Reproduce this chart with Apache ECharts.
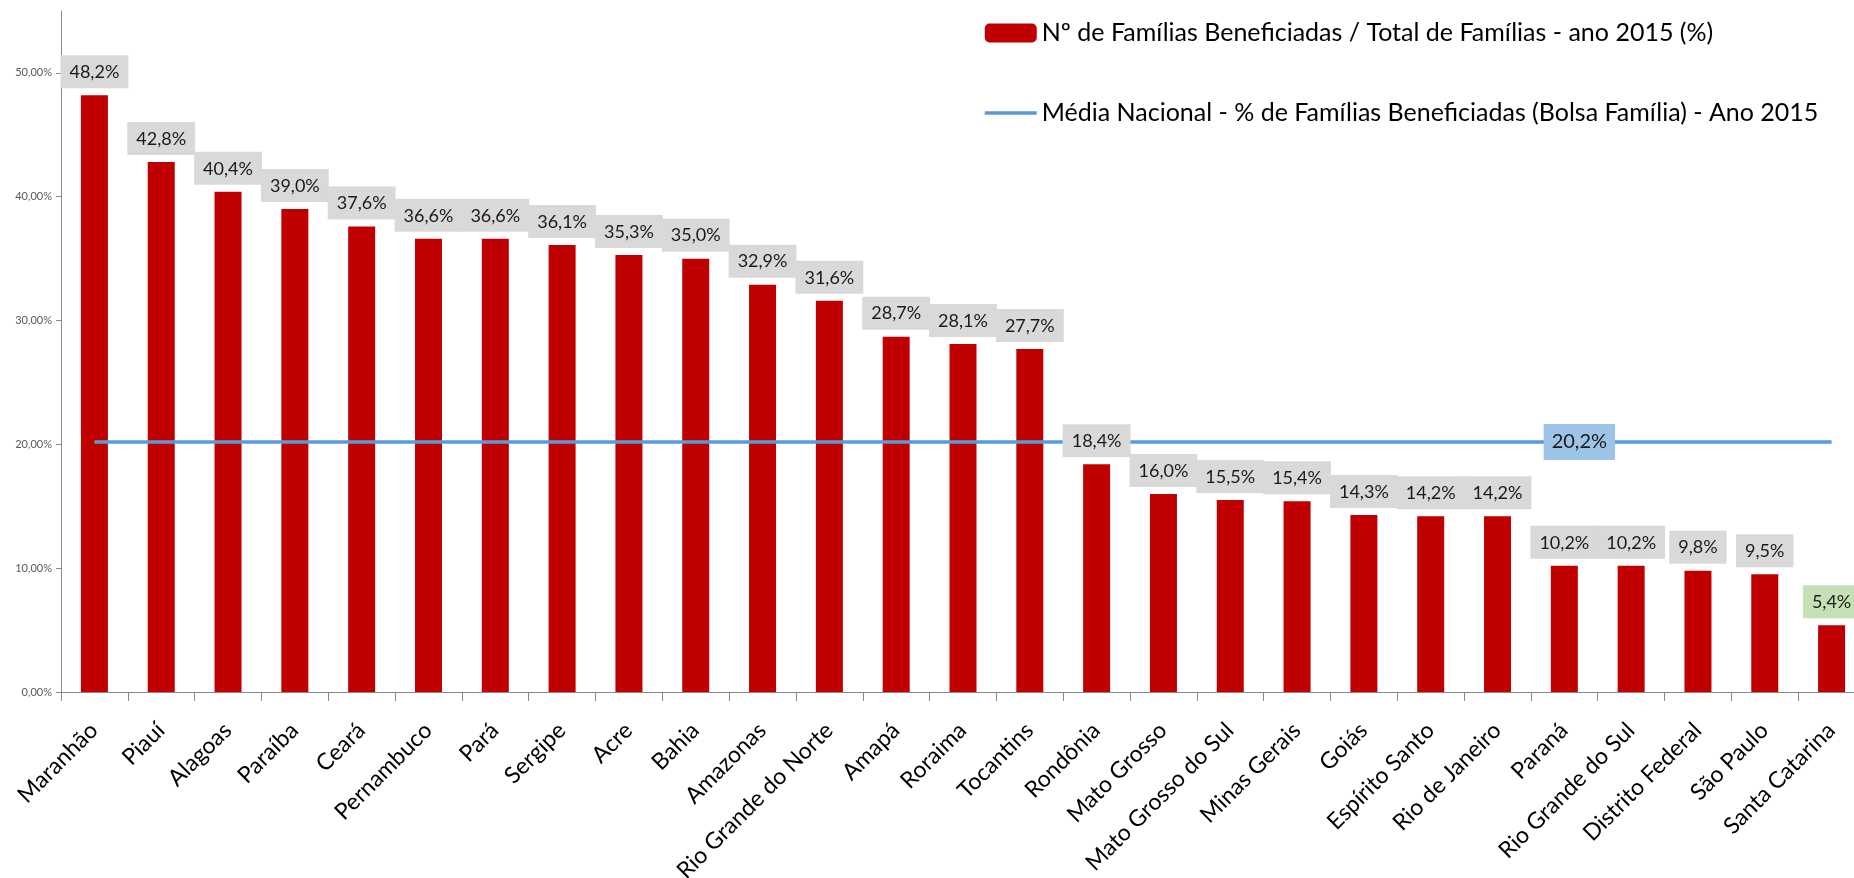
<!DOCTYPE html>
<html>
<head>
<meta charset="utf-8">
<script src="https://cdn.jsdelivr.net/npm/echarts@6/dist/echarts.min.js"></script>
<style>
html,body{margin:0;padding:0;background:#fff;}
#chart{width:1854px;height:878px;}
</style>
</head>
<body>
<div id="chart"></div>
<script>
const categories = ['Maranhão','Piauí','Alagoas','Paraíba','Ceará','Pernambuco','Pará','Sergipe','Acre','Bahia','Amazonas','Rio Grande do Norte','Amapá','Roraima','Tocantins','Rondônia','Mato Grosso','Mato Grosso do Sul','Minas Gerais','Goiás','Espírito Santo','Rio de Janeiro','Paraná','Rio Grande do Sul','Distrito Federal','São Paulo','Santa Catarina'];
const familiasPct = [48.2,42.8,40.4,39.0,37.6,36.6,36.6,36.1,35.3,35.0,32.9,31.6,28.7,28.1,27.7,18.4,16.0,15.5,15.4,14.3,14.2,14.2,10.2,10.2,9.8,9.5,5.4];
const mediaNacional = [20.2,20.2,20.2,20.2,20.2,20.2,20.2,20.2,20.2,20.2,20.2,20.2,20.2,20.2,20.2,20.2,20.2,20.2,20.2,20.2,20.2,20.2,20.2,20.2,20.2,20.2,20.2];
const yTicks = [0,10,20,30,40,50];
const barName = 'Nº de Famílias Beneficiadas / Total de Famílias - ano 2015 (%)';
const lineName = 'Média Nacional - % de Famílias Beneficiadas (Bolsa Família) - Ano 2015';
const mediaLabelIndex = 22;

const FONT = 'Lato';
const fmt1 = v => Number(v).toFixed(1).replace('.', ',') + '%';

const chart = echarts.init(document.getElementById('chart'), null, {renderer:'canvas'});

const labelData = familiasPct.map((v, i) => {
  if (i === familiasPct.length - 1) {
    return {value: v, label: {backgroundColor: '#c5e0b4'}};
  }
  return v;
});

chart.setOption({
  animation: false,
  textStyle: {fontFamily: FONT},
  legend: {
    orient: 'vertical',
    left: 978,
    top: 14,
    itemWidth: 52,
    itemHeight: 19,
    itemGap: 52,
    textStyle: {fontFamily: FONT, fontSize: 25, color: '#000', lineHeight: 28},
    data: [
      {name: barName},
      {name: lineName, itemStyle: {opacity: 0, color: 'rgba(0,0,0,0)', borderWidth: 0},
       lineStyle: {color: '#5b9bd5', width: 3.5}}
    ]
  },
  grid: {left: 61, top: 11, width: 1804, height: 681, outerBoundsMode: 'none', containLabel: false},
  xAxis: {
    type: 'category',
    data: categories,
    axisLine: {lineStyle: {color: '#898989', width: 1}},
    axisTick: {show: true, alignWithLabel: false, length: 9, lineStyle: {color: '#898989'}},
    axisLabel: {rotate: 45, interval: 0, fontFamily: FONT, fontSize: 23, color: '#000', margin: 18,
      verticalAlign: 'top', padding: [0, 12, 0, 0]}
  },
  yAxis: {
    type: 'value',
    min: 0,
    max: 55,
    interval: 10,
    splitLine: {show: false},
    axisLine: {show: true, lineStyle: {color: '#898989', width: 1}},
    axisTick: {show: true, length: 5, lineStyle: {color: '#898989'}, customValues: yTicks},
    axisLabel: {
      customValues: yTicks,
      fontFamily: FONT, fontSize: 11, color: '#595959', margin: 9,
      formatter: v => Number(v).toFixed(2).replace('.', ',') + '%'
    }
  },
  series: [
    {
      name: barName,
      type: 'bar',
      data: familiasPct,
      barWidth: 27,
      barGap: '-100%',
      itemStyle: {color: '#c00000'},
      z: 2
    },
    {
      name: lineName,
      type: 'line',
      data: mediaNacional,
      symbol: 'none',
      lineStyle: {color: '#5b9bd5', width: 3.5},
      itemStyle: {color: '#5b9bd5'},
      z: 3,
      markPoint: {
        symbol: 'rect',
        symbolSize: 1,
        itemStyle: {color: 'rgba(0,0,0,0)'},
        data: [{
          coord: [categories[mediaLabelIndex], mediaNacional[mediaLabelIndex]],
          value: mediaNacional[mediaLabelIndex],
          label: {
            show: true,
            position: 'inside',
            offset: [15, 0],
            fontFamily: FONT,
            fontSize: 20,
            color: '#1a1a1a',
            backgroundColor: '#9dc3e6',
            padding: [8, 8, 8, 8],
            formatter: p => fmt1(p.value)
          }
        }]
      }
    },
    {
      name: 'rotulos',
      type: 'bar',
      data: labelData,
      barWidth: 27,
      barGap: '-100%',
      itemStyle: {color: 'rgba(0,0,0,0)'},
      silent: true,
      z: 5,
      label: {
        show: true,
        position: 'top',
        distance: 7,
        fontFamily: FONT,
        fontSize: 18,
        color: '#1a1a1a',
        backgroundColor: '#d9d9d9',
        padding: [8, 9, 7, 9],
        formatter: p => fmt1(p.value)
      }
    }
  ]
});
</script>
</body>
</html>
